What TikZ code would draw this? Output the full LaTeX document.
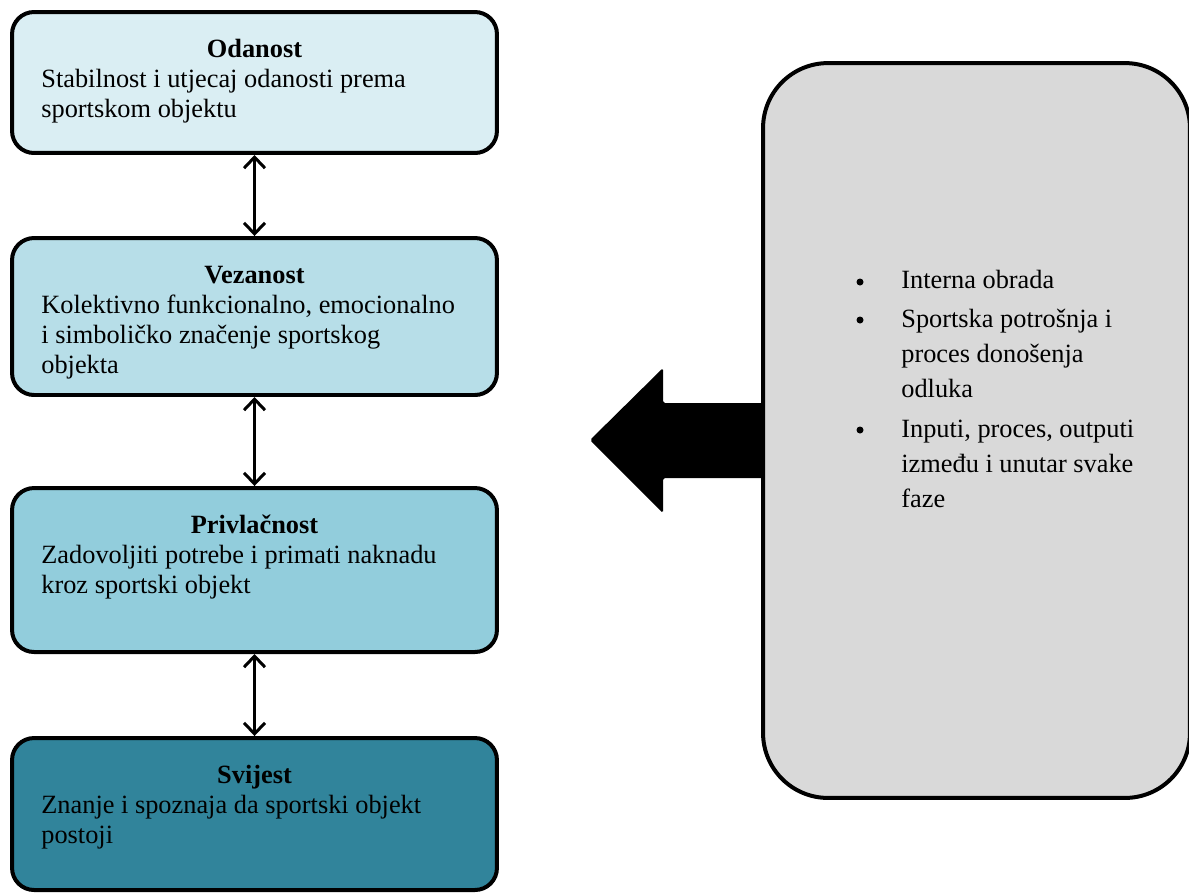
\documentclass[tikz,border=0pt]{standalone}
\usepackage{fontspec}
\setmainfont{Liberation Serif}
\usetikzlibrary{arrows.meta}
\usetikzlibrary{positioning}
\tikzset{box/.style = {draw, line width = 0.08cm, rounded corners = 0.44cm, minimum width = 9.7cm, inner sep = 0}}
\tikzset{boxtitle/.style = {anchor = base, inner sep = 0, font = \fontsize{15}{17.07}\selectfont\bfseries}}
\tikzset{boxtext/.style = {anchor = base west, inner sep = 0, align = left, font = \fontsize{15}{17.07}\selectfont}}
\tikzset{itemtext/.style = {anchor = base west, inner sep = 0, align = left, font = \fontsize{15}{19.9}\selectfont}}
\tikzset{dot/.style = {fill, circle, inner sep = 0, minimum size = 0.14cm}}
\tikzset{dblarrow/.style = {line width = 0.06cm, {Straight Barb[length = 0.22cm, width = 0.42cm]}-{Straight Barb[length = 0.22cm, width = 0.42cm]}}}
\definecolor{blueA}{rgb}{0.855, 0.933, 0.953}
\definecolor{blueB}{rgb}{0.718, 0.871, 0.910}
\definecolor{blueC}{rgb}{0.573, 0.804, 0.863}
\definecolor{blueD}{rgb}{0.192, 0.518, 0.608}
\definecolor{mgrey}{rgb}{0.851, 0.851, 0.851}
\begin{document}
\begin{tikzpicture}[x = 0.02cm, y = -0.02cm]
       \useasboundingbox (0, 0) rectangle (1189, 894);

       \node [box, fill = blueA, minimum height = 2.82cm] (odanost) at (254.5, 82.5) {};
       \node [box, fill = blueB, minimum height = 3.14cm] (vezanost) at (254.5, 316.5) {};
       \node [box, fill = blueC, minimum height = 3.28cm] (privlacnost) at (254.5, 570) {};
       \node [box, fill = blueD, minimum height = 3.04cm] (svijest) at (254.5, 814) {};

       % titles sit on their base, bodies on the base of their last line
       \node [boxtitle] (odanostT) at (254.5, 57) {Odanost};
       \node [boxtext] (odanostB) at (41, 117) {Stabilnost i utjecaj odanosti prema\\sportskom objektu};
       \node [boxtitle] (vezanostT) at (254.5, 283) {Vezanost};
       \node [boxtext] (vezanostB) at (41, 373) {Kolektivno funkcionalno, emocionalno\\i simboličko značenje sportskog\\objekta};
       \node [boxtitle] (privlacnostT) at (254.5, 533) {Privlačnost};
       \node [boxtext] (privlacnostB) at (41, 593) {Zadovoljiti potrebe i primati naknadu\\kroz sportski objekt};
       \node [boxtitle] (svijestT) at (254.5, 783) {Svijest};
       \node [boxtext] (svijestB) at (41, 843) {Znanje i spoznaja da sportski objekt\\postoji};

       \draw [dblarrow] (odanost) -- (vezanost);
       \draw [dblarrow] (vezanost) -- (privlacnost);
       \draw [dblarrow] (privlacnost) -- (svijest);

       \fill [rounded corners = 1pt] (770, 403) -- (663, 403) -- (663, 368) -- (590, 440) -- (663, 513) -- (663, 478) -- (770, 478) -- cycle;
       \node [box, fill = mgrey, rounded corners = 1.3cm, minimum width = 8.54cm, minimum height = 14.7cm] (obrada) at (976.5, 430.5) {};

       \foreach \y [count = \i] in {282, 320, 430}
              \node [dot] (dot\i) at (860, \y) {};
       \node [itemtext] (item1) at (901, 288) {Interna obrada};
       \node [itemtext] (item2) at (901, 397) {Sportska potrošnja i\\proces donošenja\\odluka};
       \node [itemtext] (item3) at (901, 507) {Inputi, proces, outputi\\između i unutar svake\\faze};
    \end{tikzpicture}
\end{document}
